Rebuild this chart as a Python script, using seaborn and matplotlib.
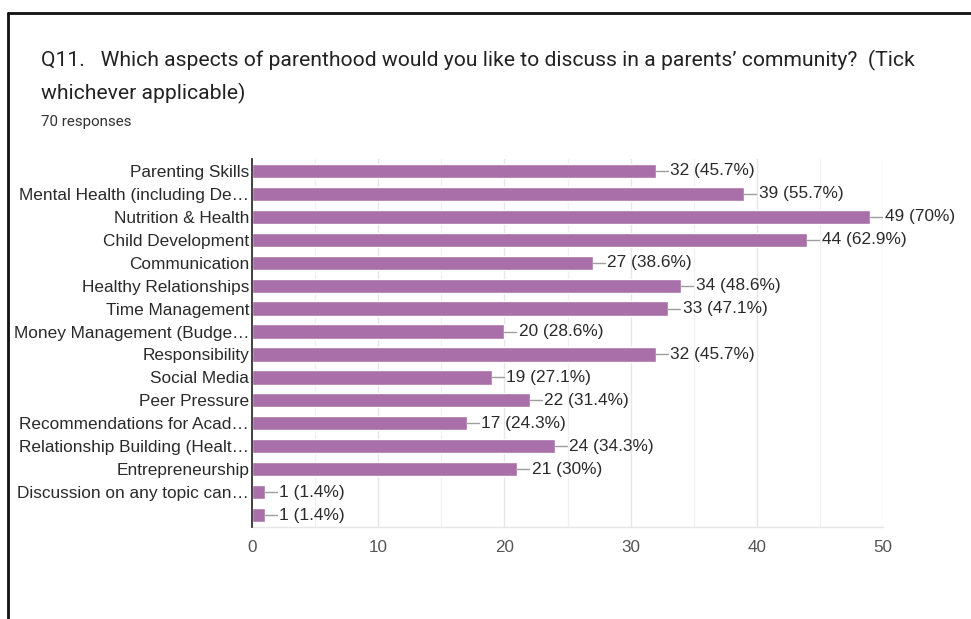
import matplotlib
matplotlib.use("Agg")
import matplotlib.pyplot as plt
import seaborn as sns
import pandas as pd
from matplotlib.lines import Line2D

categories = [
    "Parenting Skills",
    "Mental Health (including De…",
    "Nutrition & Health",
    "Child Development",
    "Communication",
    "Healthy Relationships",
    "Time Management",
    "Money Management (Budge…",
    "Responsibility",
    "Social Media",
    "Peer Pressure",
    "Recommendations for Acad…",
    "Relationship Building (Healt…",
    "Entrepreneurship",
    "Discussion on any topic can…",
    " ",
]
counts = [32, 39, 49, 44, 27, 34, 33, 20, 32, 19, 22, 17, 24, 21, 1, 1]
percent_labels = ["45.7%", "55.7%", "70%", "62.9%", "38.6%", "48.6%", "47.1%", "28.6%",
                  "45.7%", "27.1%", "31.4%", "24.3%", "34.3%", "30%", "1.4%", "1.4%"]
x_ticks = [0, 10, 20, 30, 40, 50]

title_line1 = "Q11.   Which aspects of parenthood would you like to discuss in a parents’ community?  (Tick"
title_line2 = "whichever applicable)"
subtitle = "70 responses"

sns.set_theme(style="white")
plt.rcParams["font.family"] = ["Liberation Sans", "DejaVu Sans"]
label_font = ["Liberation Sans", "DejaVu Sans"]
title_font = ["Roboto", "DejaVu Sans"]

df = pd.DataFrame({"category": categories, "count": counts})

fig = plt.figure(figsize=(9.71, 6.19), dpi=100)
ax = fig.add_axes([252 / 971, 1 - 527 / 619, (883 - 252) / 971, (527 - 159) / 619])

bar_color = "#a86fa8"
sns.barplot(data=df, y="category", x="count", orient="h", color=bar_color,
            width=0.62, saturation=1, ax=ax, zorder=3)

ax.set_xlim(0, 50)
ax.set_ylim(len(categories) - 0.48, -0.52)
ax.set_xticks(x_ticks)
ax.set_xticks(range(0, 51, 5), minor=True)
ax.grid(axis="x", which="major", color="#e6e6e6", linewidth=1, zorder=0)
ax.grid(axis="x", which="minor", color="#f0f0f0", linewidth=1, zorder=0)
ax.set_xlabel("")
ax.set_ylabel("")

for side in ["top", "right"]:
    ax.spines[side].set_visible(False)
ax.spines["bottom"].set_color("#e6e6e6")
ax.spines["bottom"].set_linewidth(1)
ax.spines["left"].set_color("#333333")
ax.spines["left"].set_linewidth(1.3)
ax.spines["left"].set_zorder(5)

ax.tick_params(axis="y", length=0, pad=2, labelsize=12.4, labelcolor="#2a2a2a")
ax.tick_params(axis="x", which="both", length=0, pad=9, labelsize=12.3, labelcolor="#555555")

# value labels with a short leader line after each bar
for i, (v, p) in enumerate(zip(counts, percent_labels)):
    ax.plot([v, v + 0.95], [i, i], color="#9e9e9e", linewidth=1, zorder=4, clip_on=False)
    ax.text(v + 1.15, i, f"{v} ({p})", va="center", ha="left", fontsize=12.4,
            color="#2a2a2a", zorder=4, family=label_font)

fig.text(41 / 971, 1 - 60 / 619, title_line1, fontsize=15.2, color="#222222",
         va="center", ha="left", family=title_font)
fig.text(41 / 971, 1 - 93 / 619, title_line2, fontsize=15.2, color="#222222",
         va="center", ha="left", family=title_font)
fig.text(41 / 971, 1 - 122 / 619, subtitle, fontsize=10.9, color="#333333",
         va="center", ha="left", family=title_font)

# screenshot frame along the top and left edges
fig.add_artist(Line2D([8 / 971, 1], [1 - 13 / 619, 1 - 13 / 619], transform=fig.transFigure,
                      color="#111111", linewidth=2))
fig.add_artist(Line2D([8 / 971, 8 / 971], [0, 1 - 13 / 619], transform=fig.transFigure,
                      color="#111111", linewidth=2))

fig.savefig("out.png", dpi=100, facecolor="white")
